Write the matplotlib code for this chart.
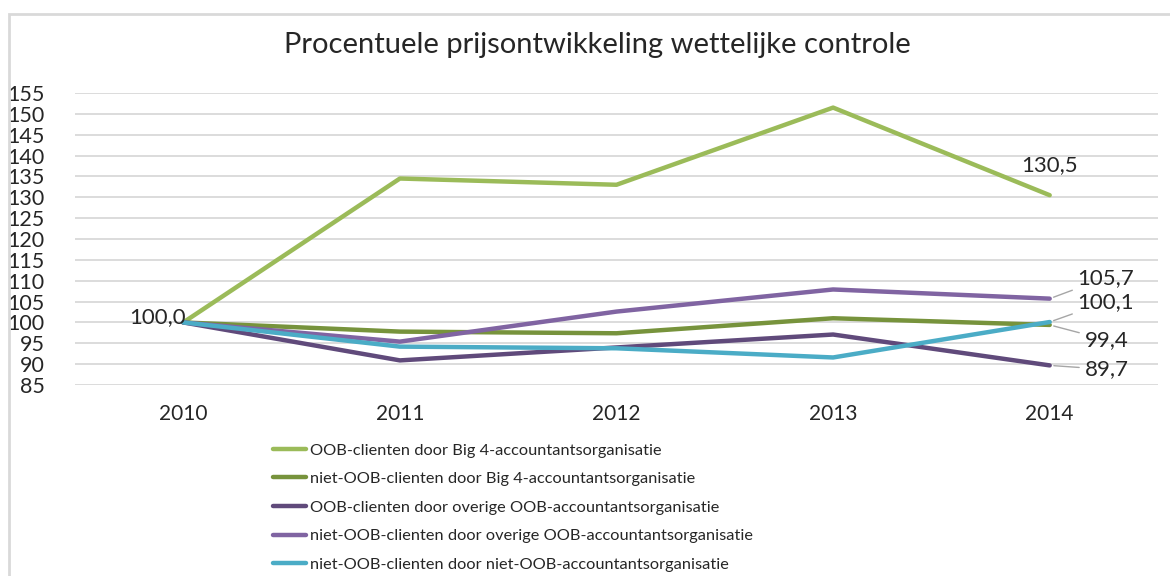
import matplotlib
matplotlib.use("Agg")
import matplotlib.pyplot as plt
from matplotlib.patches import Rectangle

plt.rcParams['font.family'] = ['Lato', 'DejaVu Sans']

# Data
jaren = ['2010', '2011', '2012', '2013', '2014']
oob_big4 = [100.0, 134.5, 133.0, 151.5, 130.5]
niet_oob_big4 = [100.0, 97.8, 97.4, 101.0, 99.4]
oob_overig = [100.0, 90.9, 94.0, 97.1, 89.7]
niet_oob_overig = [100.0, 95.4, 102.6, 107.9, 105.7]
niet_oob_niet_oob = [100.0, 94.2, 93.8, 91.6, 100.1]

reeksen = [
    ('OOB-clienten door Big 4-accountantsorganisatie', oob_big4, '#9BBB59'),
    ('niet-OOB-clienten door Big 4-accountantsorganisatie', niet_oob_big4, '#77933C'),
    ('OOB-clienten door overige OOB-accountantsorganisatie', oob_overig, '#604A7B'),
    ('niet-OOB-clienten door overige OOB-accountantsorganisatie', niet_oob_overig, '#8064A2'),
    ('niet-OOB-clienten door niet-OOB-accountantsorganisatie', niet_oob_niet_oob, '#4BACC6'),
]

fig = plt.figure(figsize=(11.7, 5.76), dpi=100)
fig.patches.append(Rectangle((9 / 1170, -0.1), 1.2, 1 - 14 / 576 + 0.1,
                             transform=fig.transFigure, fill=False,
                             edgecolor='#D9D9D9', linewidth=2))

ax = fig.add_axes([75 / 1170, 1 - 385 / 576, (1158 - 75) / 1170, (385 - 93) / 576])
x = list(range(len(jaren)))
lijnen = []
for naam, waarden, kleur in reeksen:
    l, = ax.plot(x, waarden, color=kleur, linewidth=3.2, solid_capstyle='round', label=naam)
    lijnen.append(l)

ax.set_xlim(-0.5, len(jaren) - 0.5)
ax.set_ylim(85, 155)
ax.set_yticks(range(85, 156, 5))
ax.set_xticks(x)
ax.set_xticklabels(jaren)
ax.grid(axis='y', color='#D9D9D9', linewidth=1.3)
ax.set_axisbelow(True)
for s in ax.spines.values():
    s.set_visible(False)
ax.tick_params(axis='y', length=0, pad=22, labelsize=15.5, labelcolor='#262626')
ax.tick_params(axis='x', length=0, pad=14, labelsize=15, labelcolor='#262626')

fig.text(597 / 1170, 1 - 45 / 576, 'Procentuele prijsontwikkeling wettelijke controle',
         ha='center', va='center', fontsize=21, color='#262626')

# Data labels
lbl = dict(fontsize=16, color='#262626', textcoords='offset pixels', va='center')
lead = dict(arrowstyle='-', color='#A6A6A6', lw=1, shrinkA=2, shrinkB=3)
ax.annotate('100,0', (0, oob_big4[0]), xytext=(3, 5), ha='right', **lbl)
ax.annotate('130,5', (4, oob_big4[4]), xytext=(0, 30), ha='center', **lbl)
ax.annotate('105,7', (4, niet_oob_overig[4]), xytext=(28, 21), ha='left', arrowprops=lead, **lbl)
ax.annotate('100,1', (4, niet_oob_niet_oob[4]), xytext=(28, 20), ha='left', arrowprops=lead, **lbl)
ax.annotate('99,4', (4, niet_oob_big4[4]), xytext=(35, -15), ha='left', arrowprops=lead, **lbl)
ax.annotate('89,7', (4, oob_overig[4]), xytext=(35, -4), ha='left', arrowprops=lead, **lbl)

fig.legend(handles=lijnen, loc='upper left', bbox_to_anchor=(265 / 1170, 1 - 435 / 576),
           frameon=False, fontsize=11.8, handlelength=2.0, handletextpad=0.25,
           labelspacing=0.86, borderpad=0, labelcolor='#262626')

fig.savefig('out.png', dpi=100)
